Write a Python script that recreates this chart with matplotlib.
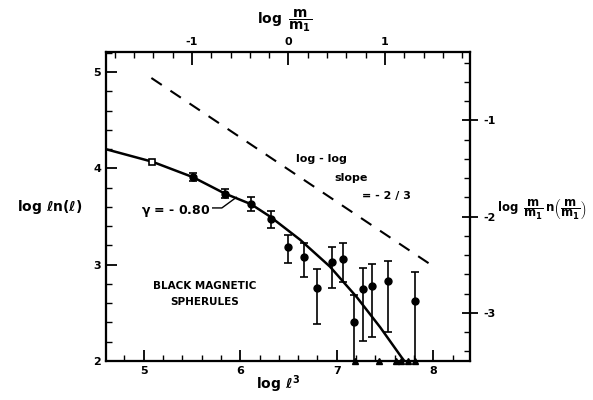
import numpy as np
import matplotlib
matplotlib.use("Agg")
import matplotlib.pyplot as plt
from matplotlib.ticker import MultipleLocator

plt.rcParams["font.family"] = "DejaVu Sans"
plt.rcParams["font.weight"] = "bold"
plt.rcParams["axes.unicode_minus"] = False
plt.rcParams["mathtext.fontset"] = "custom"
plt.rcParams["mathtext.rm"] = "DejaVu Sans:bold"
plt.rcParams["mathtext.it"] = "DejaVu Sans:bold"
plt.rcParams["mathtext.bf"] = "DejaVu Sans:bold"

# donnees
pts_x = [5.51, 5.84, 6.11, 6.32, 6.50, 6.66, 6.80, 6.95, 7.06, 7.18, 7.27, 7.36, 7.53, 7.81]
pts_y = [3.91, 3.74, 3.63, 3.47, 3.18, 3.08, 2.76, 3.03, 3.06, 2.40, 2.75, 2.78, 2.83, 2.62]
err_hi = [3.95, 3.79, 3.70, 3.56, 3.31, 3.23, 2.96, 3.18, 3.23, 2.69, 2.97, 3.01, 3.04, 2.92]
err_lo = [3.87, 3.69, 3.56, 3.38, 3.02, 2.87, 2.38, 2.76, 2.82, 2.00, 2.21, 2.25, 2.30, 2.00]

open_x = [5.09]
open_y = [4.07]

limit_x = [7.19, 7.44, 7.61, 7.67, 7.74, 7.81]
limit_y = [2.0, 2.0, 2.0, 2.0, 2.0, 2.0]

curve_x = [4.61, 5.09, 5.51, 5.84, 6.11, 6.31, 6.62, 6.93, 7.21, 7.45, 7.67, 7.70]
curve_y = [4.20, 4.07, 3.91, 3.74, 3.63, 3.50, 3.26, 2.98, 2.66, 2.35, 2.04, 2.00]

slope_x = [5.08, 8.02]
slope_y = [4.94, 2.97]

leader_x = [5.715, 5.81, 5.96]
leader_y = [3.59, 3.59, 3.70]

XLIM = (4.61, 8.38)
YLIM = (2.0, 5.21)
M_SHIFT = 6.5   # log m/m1 = log l^3 - 6.5
N_SHIFT = 5.5   # axe de droite = axe de gauche - 5.5

fig = plt.figure(figsize=(5.93, 4.0), dpi=100)
ax = fig.add_axes([106 / 593, 39 / 400, 364 / 593, 309 / 400])

ax.plot(curve_x, curve_y, color="black", lw=1.8)
ax.plot(slope_x, slope_y, color="black", lw=1.5, dashes=(6, 5))
ax.plot(leader_x, leader_y, color="black", lw=1.0)

yerr = [np.array(pts_y) - np.array(err_lo), np.array(err_hi) - np.array(pts_y)]
ax.errorbar(pts_x, pts_y, yerr=yerr, fmt="o", color="black", ms=5,
            elinewidth=1.2, capsize=3, capthick=1.2, clip_on=False)
ax.plot(open_x, open_y, "s", mfc="white", mec="black", ms=4, mew=1.2)
ax.plot(limit_x, limit_y, "^", color="black", ms=4, clip_on=False)

ax.text(6.84, 4.10, "log - log", ha="center", va="center", fontsize=8, fontweight="bold")
ax.text(7.15, 3.90, "slope", ha="center", va="center", fontsize=8, fontweight="bold")
ax.text(7.51, 3.71, "= - 2 / 3", ha="center", va="center", fontsize=8, fontweight="bold")
ax.text(5.33, 3.56, r"$\gamma$ = - 0.80", ha="center", va="center", fontsize=9, fontweight="bold")
ax.text(5.63, 2.78, "BLACK MAGNETIC", ha="center", va="center", fontsize=7.5, fontweight="bold")
ax.text(5.63, 2.61, "SPHERULES", ha="center", va="center", fontsize=7.5, fontweight="bold")

ax.set_xlim(*XLIM)
ax.set_ylim(*YLIM)
ax.xaxis.set_major_locator(MultipleLocator(1))
ax.xaxis.set_minor_locator(MultipleLocator(0.2))
ax.yaxis.set_major_locator(MultipleLocator(1))
ax.yaxis.set_minor_locator(MultipleLocator(0.2))
ax.tick_params(which="major", direction="in", length=8, width=1.3, labelsize=8,
               top=False, right=False)
ax.tick_params(which="minor", direction="in", length=4, width=1.0, top=False, right=False)
for s in ax.spines.values():
    s.set_linewidth(1.5)

# axe du haut : log m/m1
top = ax.twiny()
top.set_xlim(XLIM[0] - M_SHIFT, XLIM[1] - M_SHIFT)
top.xaxis.set_major_locator(MultipleLocator(1))
top.xaxis.set_minor_locator(MultipleLocator(0.2))
top.tick_params(which="major", direction="in", length=9, width=1.3, labelsize=8)
top.tick_params(which="minor", direction="in", length=4, width=1.0)

# axe de droite
right = ax.twinx()
right.set_ylim(YLIM[0] - N_SHIFT, YLIM[1] - N_SHIFT)
right.yaxis.set_major_locator(MultipleLocator(1))
right.yaxis.set_minor_locator(MultipleLocator(0.2))
right.tick_params(which="major", direction="inout", length=12, width=1.3, labelsize=8)
right.tick_params(which="minor", direction="in", length=4, width=1.0)
for a in (top, right):
    for s in a.spines.values():
        s.set_linewidth(1.5)

fig.text(50 / 593, 1 - 207 / 400, r"log $\ell$n($\ell$)", ha="center", va="center",
         fontsize=10, fontweight="bold")
fig.text(278 / 593, 1 - 384 / 400, r"log $\ell^3$", ha="center", va="center",
         fontsize=10, fontweight="bold")
fig.text(285 / 593, 1 - 21 / 400, r"$\log\ \dfrac{m}{m_1}$", ha="center", va="center", fontsize=10)
fig.text(542 / 593, 1 - 209 / 400, r"$\log\ \dfrac{m}{m_1}\, n\left(\dfrac{m}{m_1}\right)$",
         ha="center", va="center", fontsize=8.5)

fig.savefig("out.png", dpi=100)
